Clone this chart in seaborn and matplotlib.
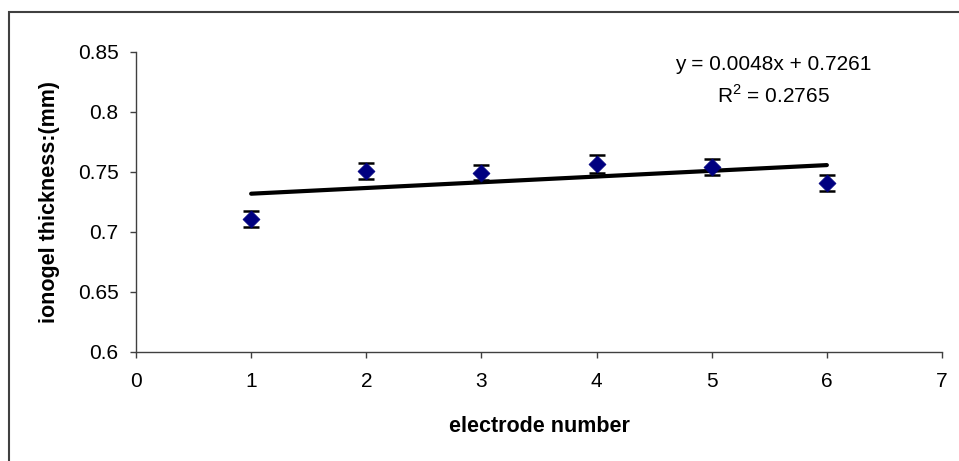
import numpy as np
import pandas as pd
import matplotlib
matplotlib.use("Agg")
import matplotlib.pyplot as plt
from matplotlib.patches import Rectangle
import seaborn as sns

electrodes = [1, 2, 3, 4, 5, 6]
thickness = [0.7106, 0.7506, 0.7492, 0.7566, 0.7541, 0.7404]
thickness_err = [0.0067, 0.0067, 0.0064, 0.0075, 0.0067, 0.0067]
x_ticks = [0, 1, 2, 3, 4, 5, 6, 7]
y_ticks = [0.6, 0.65, 0.7, 0.75, 0.8, 0.85]
y_tick_labels = ["0.6", "0.65", "0.7", "0.75", "0.8", "0.85"]
eq_text = "y = 0.0048x + 0.7261"
r2_text = "R$^2$ = 0.2765"

df = pd.DataFrame({"electrode": electrodes, "thickness": thickness, "err": thickness_err})

sns.set_style("ticks")
plt.rcParams["font.family"] = ["Liberation Sans", "DejaVu Sans"]
plt.rcParams["mathtext.fontset"] = "custom"
plt.rcParams["mathtext.rm"] = "Liberation Sans"
plt.rcParams["text.color"] = "black"
plt.rcParams["axes.labelcolor"] = "black"

fig = plt.figure(figsize=(9.59, 4.61), dpi=100)
ax = fig.add_axes([136 / 959, 1 - 351.7 / 461, (942 - 136) / 959, 300 / 461])

# trendline (linear fit)
sns.regplot(data=df, x="electrode", y="thickness", ax=ax, scatter=False, ci=None,
            truncate=True, line_kws={"color": "black", "lw": 3, "zorder": 2})

ax.errorbar(df["electrode"], df["thickness"], yerr=df["err"], fmt="none",
            ecolor="black", elinewidth=1.5, capsize=5.8, capthick=1.8, zorder=3)
sns.scatterplot(data=df, x="electrode", y="thickness", ax=ax, marker="D", s=75,
                color="#000080", edgecolor="#000080", linewidth=0.5, zorder=4)

ax.set_xlim(0, 7)
ax.set_ylim(0.6, 0.85)
ax.set_xticks(x_ticks)
ax.set_xticklabels([str(t) for t in x_ticks])
ax.set_yticks(y_ticks)
ax.set_yticklabels(y_tick_labels)
ax.tick_params(axis="both", direction="out", length=4.5, width=1, colors="#404040",
               labelcolor="black", labelsize=15)
ax.tick_params(axis="x", pad=10)
ax.tick_params(axis="y", pad=8)
for side in ["top", "right"]:
    ax.spines[side].set_visible(False)
for side in ["left", "bottom"]:
    ax.spines[side].set_color("#404040")
    ax.spines[side].set_linewidth(1)

ax.set_xlabel("electrode number", fontsize=15.5, fontweight="bold", labelpad=18)
ax.set_ylabel("ionogel thickness:(mm)", fontsize=15.5, fontweight="bold", labelpad=13)

fig.text(773 / 959, 1 - 65 / 461, eq_text, ha="center", va="center", fontsize=15)
fig.text(773 / 959, 1 - 95 / 461, r2_text, ha="center", va="center", fontsize=15)

# outer chart-area border (cropped on right and bottom)
fig.patches.append(Rectangle((9 / 959, -0.2), 2, 1.2 - 12 / 461, transform=fig.transFigure,
                             fill=False, edgecolor="#404040", lw=1.5, figure=fig))

fig.savefig("out.png", dpi=100)
